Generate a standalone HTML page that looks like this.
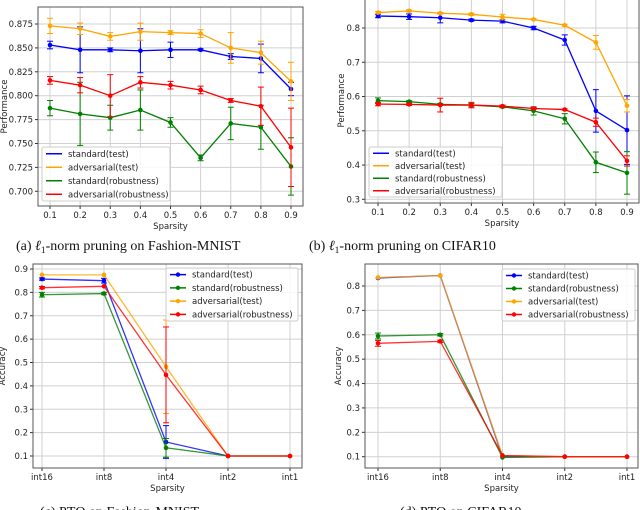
<!DOCTYPE html>
<html><head><meta charset="utf-8"><style>
body{margin:0;background:#fff}
svg{display:block;font-family:"DejaVu Sans","Liberation Sans",sans-serif}
.cap{font-family:"Liberation Serif",serif;font-size:14px;fill:#111}
</style></head><body>
<svg id="fig" width="640" height="510" viewBox="0 0 640 510">
<text class="cap" x="16" y="250">(a) <tspan font-style="italic">ℓ</tspan><tspan font-size="9.5" dy="3">1</tspan><tspan dy="-3">-norm pruning on Fashion-MNIST</tspan></text>
<text class="cap" x="309" y="250">(b) <tspan font-style="italic">ℓ</tspan><tspan font-size="9.5" dy="3">1</tspan><tspan dy="-3">-norm pruning on CIFAR10</tspan></text>
<text class="cap" x="40" y="516">(c) PTQ on Fashion-MNIST</text>
<text class="cap" x="400" y="516">(d) PTQ on CIFAR10</text>
</svg>
<script>
// ---- data ----
const sparsityCats = ["0.1","0.2","0.3","0.4","0.5","0.6","0.7","0.8","0.9"];
const quantCats = ["int16","int8","int4","int2","int1"];
const aStdTest = [.853,.848,.848,.847,.848,.848,.841,.839,.807];
const aStdTestErr = [.004,.024,.002,.023,.008,.001,.003,.015,.007];
const aAdvTest = [.873,.870,.862,.867,.866,.865,.850,.845,.815];
const aAdvTestErr = [.008,.006,.004,.009,.002,.004,.016,.012,.020];
const aStdRob = [.787,.781,.777,.785,.772,.735,.771,.767,.726];
const aStdRobErr = [.008,.033,.013,.021,.005,.003,.017,.023,.030];
const aAdvRob = [.816,.811,.800,.814,.811,.806,.795,.789,.746];
const aAdvRobErr = [.004,.008,.022,.006,.004,.004,.002,.020,.041];
const aTicks = [0.700,0.725,0.750,0.775,0.800,0.825,0.850,0.875];
const bStdTest = [.835,.833,.830,.823,.820,.800,.765,.558,.502];
const bStdTestErr = [.005,.008,.015,.003,.005,.005,.015,.062,.10];
const bAdvTest = [.845,.850,.843,.840,.832,.825,.808,.758,.573];
const bAdvTestErr = [.003,.003,.002,.003,.008,.002,.003,.02,.018];
const bStdRob = [.588,.585,.577,.575,.570,.558,.535,.408,.377];
const bStdRobErr = [.008,.003,.003,.005,.003,.012,.015,.03,.062];
const bAdvRob = [.578,.577,.575,.575,.572,.565,.562,.525,.412];
const bAdvRobErr = [.005,.003,.02,.008,.003,.003,.002,.012,.015];
const bTicks = [0.3,0.4,0.5,0.6,0.7,0.8];
const cStdTest = [.857,.85,.16,.1,.1];
const cStdTestErr = [.005,.01,.07,0,0];
const cStdRob = [.79,.795,.135,.1,.1];
const cStdRobErr = [.01,.005,.04,0,0];
const cAdvTest = [.875,.875,.482,.1,.1];
const cAdvTestErr = [0,0,.2,0,0];
const cAdvRob = [.82,.826,.447,.1,.1];
const cAdvRobErr = [.005,0,.205,0,0];
const cTicks = [0.1,0.2,0.3,0.4,0.5,0.6,0.7,0.8,0.9];
const dStdTest = [.833,.843,.1,.1,.1];
const dStdRob = [.595,.6,.097,.1,.1];
const dStdRobErr = [.012,.005,0,0,0];
const dAdvTest = [.835,.843,.105,.1,.1];
const dAdvRob = [.565,.573,.105,.1,.1];
const dAdvRobErr = [.012,.005,0,0,0];
const dTicks = [0.1,0.2,0.3,0.4,0.5,0.6,0.7,0.8];

const NS="http://www.w3.org/2000/svg";
const fig=document.getElementById('fig');
function mk(tag,attrs,parent){const e=document.createElementNS(NS,tag);for(const k in attrs)e.setAttribute(k,attrs[k]);(parent||fig).appendChild(e);return e;}

function panel(p){
  const g=mk('g',{});
  
  
  const n=p.cats.length;
  const xf=i=>p.x0+(p.x1-p.x0)*i/(n-1);
  const yf=v=>p.y0+(p.v0-v)/(p.v0-p.v1)*(p.y1-p.y0);
  p.cats.forEach((c,i)=>{
    const l=mk('line',{x1:xf(i),x2:xf(i),y1:p.top,y2:p.bot,stroke:'#d0d0d0','stroke-width':1},g);
    
    
    mk('line',{x1:xf(i),x2:xf(i),y1:p.bot,y2:p.bot+3,stroke:'#333'},g);
    const t=mk('text',{x:xf(i),y:p.bot+12,'font-size':8.5,'text-anchor':'middle',fill:'#222'},g);
    t.textContent=c;
    
    
  });
  p.ticks.forEach(v=>{
    const y=yf(v);
    const l=mk('line',{x1:p.left,x2:p.right,y1:y,y2:y,stroke:'#d0d0d0','stroke-width':1},g);
    
    
    mk('line',{x1:p.left-3,x2:p.left,y1:y,y2:y,stroke:'#333'},g);
    const t=mk('text',{x:p.left-5,y:y+3,'font-size':8.5,'text-anchor':'end',fill:'#222'},g);
    t.textContent=v.toFixed(p.dec);
    
    
  });
  const fr=mk('rect',{x:p.left,y:p.top,width:p.right-p.left,height:p.bot-p.top,fill:'none',stroke:'#555','stroke-width':1},g);
  
  
  const xl=mk('text',{x:(p.left+p.right)/2,y:p.bot+23,'font-size':8.5,'text-anchor':'middle',fill:'#222'},g);
  xl.textContent='Sparsity';
  
  
  const yl=mk('text',{x:0,y:0,'font-size':8.5,'text-anchor':'middle',fill:'#222',transform:`translate(${p.ylx},${(p.top+p.bot)/2}) rotate(-90)`},g);
  yl.textContent=p.ylabel;
  
  
  p.series.forEach(s=>{
    const sg=mk('g',{},g);
    
    
    mk('polyline',{points:s.vals.map((v,i)=>xf(i)+','+yf(v)).join(' '),fill:'none',stroke:s.color,'stroke-width':1.3,'stroke-opacity':p.alpha},sg);
    s.vals.forEach((v,i)=>{
      const e=s.err?s.err[i]:0;
      if(e>0){
        mk('line',{x1:xf(i),x2:xf(i),y1:yf(v-e),y2:yf(v+e),stroke:s.color,'stroke-width':1},sg);
        mk('line',{x1:xf(i)-3,x2:xf(i)+3,y1:yf(v-e),y2:yf(v-e),stroke:s.color,'stroke-width':1},sg);
        mk('line',{x1:xf(i)-3,x2:xf(i)+3,y1:yf(v+e),y2:yf(v+e),stroke:s.color,'stroke-width':1},sg);
      }
      const m=mk('circle',{cx:xf(i),cy:yf(v),r:2.3,fill:s.color},sg);
      
      
    });
  });
  const L=p.legend;
  const lg=mk('g',{},g);
  
  
  mk('rect',{x:L.x,y:L.y,width:L.w,height:L.h,fill:'#fff','fill-opacity':0.85,stroke:'#ccc',rx:2},lg);
  const step=L.h/p.series.length;
  p.series.forEach((s,k)=>{
    const cy=L.y+step*(k+0.5);
    const e=mk('g',{},lg);
    
    
    mk('line',{x1:L.x+4,x2:L.x+20,y1:cy,y2:cy,stroke:s.color,'stroke-width':1.5},e);
    if(p.legendMarker) mk('circle',{cx:L.x+12,cy:cy,r:2.2,fill:s.color},e);
    const t=mk('text',{x:L.x+26,y:cy+3,'font-size':8.5,fill:'#222'},e);
    t.textContent=s.label;
  });
}

panel({name:'chart-a',cats:sparsityCats,x0:50,x1:291,left:38,right:303,top:7,bot:206,v0:0.875,v1:0.700,y0:24,y1:191.3,ticks:aTicks,dec:3,ylabel:'Performance',ylx:7,alpha:1,
 legend:{x:42,y:147,w:128,h:54},legendMarker:false,
 series:[{label:'standard(test)',color:'#0000ff',vals:aStdTest,err:aStdTestErr},
 {label:'adversarial(test)',color:'#ffa500',vals:aAdvTest,err:aAdvTestErr},
 {label:'standard(robustness)',color:'#008000',vals:aStdRob,err:aStdRobErr},
 {label:'adversarial(robustness)',color:'#ff0000',vals:aAdvRob,err:aAdvRobErr}]});
panel({name:'chart-b',cats:sparsityCats,x0:378,x1:627,left:365,right:639,top:-2,bot:203,v0:0.8,v1:0.3,y0:28,y1:199.3,ticks:bTicks,dec:1,ylabel:'Performance',ylx:344,alpha:1,
 legend:{x:369,y:147,w:133,h:50},legendMarker:false,
 series:[{label:'standard(test)',color:'#0000ff',vals:bStdTest,err:bStdTestErr},
 {label:'adversarial(test)',color:'#ffa500',vals:bAdvTest,err:bAdvTestErr},
 {label:'standard(robustness)',color:'#008000',vals:bStdRob,err:bStdRobErr},
 {label:'adversarial(robustness)',color:'#ff0000',vals:bAdvRob,err:bAdvRobErr}]});
panel({name:'chart-c',cats:quantCats,x0:42,x1:290,left:33,right:302,top:264,bot:468,v0:0.9,v1:0.1,y0:269,y1:456,ticks:cTicks,dec:1,ylabel:'Accuracy',ylx:5,alpha:0.8,
 legend:{x:166,y:268,w:132,h:53},legendMarker:true,
 series:[{label:'standard(test)',color:'#0000ff',vals:cStdTest,err:cStdTestErr},
 {label:'standard(robustness)',color:'#008000',vals:cStdRob,err:cStdRobErr},
 {label:'adversarial(test)',color:'#ffa500',vals:cAdvTest,err:cAdvTestErr},
 {label:'adversarial(robustness)',color:'#ff0000',vals:cAdvRob,err:cAdvRobErr}]});
panel({name:'chart-d',cats:quantCats,x0:378,x1:627,left:365,right:638,top:264,bot:468,v0:0.8,v1:0.1,y0:286,y1:456.7,ticks:dTicks,dec:1,ylabel:'Accuracy',ylx:341,alpha:0.8,
 legend:{x:502,y:269,w:133,h:52},legendMarker:true,
 series:[{label:'standard(test)',color:'#0000ff',vals:dStdTest,err:null},
 {label:'standard(robustness)',color:'#008000',vals:dStdRob,err:dStdRobErr},
 {label:'adversarial(test)',color:'#ffa500',vals:dAdvTest,err:null},
 {label:'adversarial(robustness)',color:'#ff0000',vals:dAdvRob,err:dAdvRobErr}]});
</script>
</body></html>
